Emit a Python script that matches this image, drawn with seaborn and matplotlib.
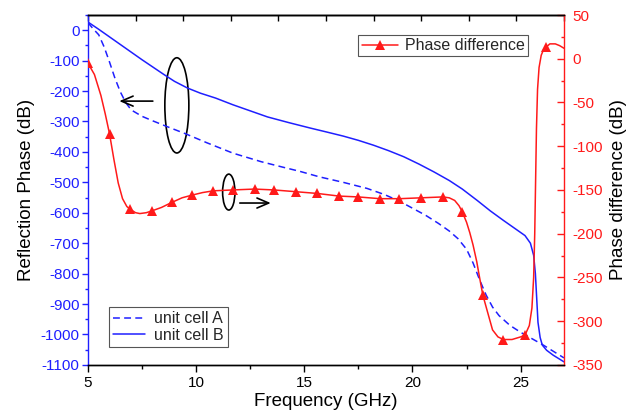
import matplotlib
matplotlib.use('Agg')
import matplotlib.pyplot as plt
from matplotlib.patches import Ellipse
from matplotlib.ticker import MultipleLocator, NullFormatter
import seaborn as sns
import numpy as np
import pandas as pd

# unit cell A (dashed)
freq_a = [5.0, 5.25, 5.5, 5.75, 6.0, 6.25, 6.5, 6.75, 7.0, 7.5, 8.0, 8.7, 9.5, 10.5, 11.7,
          13.0, 14.0, 14.8, 15.7, 16.8, 17.9, 18.7, 19.4, 20.0, 20.6, 21.2, 21.7, 22.1,
          22.5, 22.8, 23.1, 23.4, 23.7, 24.0, 24.5, 25.0, 25.5, 26.0, 26.5, 27.0]
phase_a = [25, 4, -15, -55, -105, -158, -203, -238, -262, -283, -298, -318, -340, -370, -404,
           -432, -450, -464, -482, -500, -520, -540, -562, -585, -608, -635, -660, -685,
           -720, -765, -820, -870, -910, -938, -970, -993, -1013, -1033, -1055, -1077]

# unit cell B (solid)
freq_b = [5.0, 5.5, 6.0, 6.5, 7.0, 7.5, 8.0, 8.5, 9.0, 9.6, 10.2, 10.9, 11.7, 12.5, 13.3,
          14.3, 15.3, 16.0, 16.8, 17.5, 18.2, 18.9, 19.6, 20.3, 21.0, 21.7, 22.3, 23.0,
          23.6, 24.2, 24.8, 25.2, 25.45, 25.6, 25.68, 25.74, 25.8, 25.9, 26.0, 26.2,
          26.5, 27.0]
phase_b = [27, 3, -22, -47, -72, -97, -121, -145, -168, -190, -207, -223, -245, -265, -285,
           -304, -322, -334, -348, -362, -378, -396, -416, -440, -466, -494, -522, -560,
           -594, -625, -655, -675, -700, -740, -800, -880, -960, -1010, -1035, -1052,
           -1068, -1090]

# phase difference (right axis)
freq_pd = [5.0, 5.3, 5.6, 5.8, 6.0, 6.2, 6.4, 6.6, 6.8, 6.95, 7.2, 7.4, 7.7, 7.95, 8.4,
           8.9, 9.35, 9.8, 10.3, 10.8, 11.7, 12.7, 13.6, 14.6, 15.6, 16.6, 17.5, 18.5,
           19.4, 20.4, 21.4, 21.7, 21.95, 22.15, 22.3, 22.5, 22.65, 22.8, 22.97, 23.1,
           23.25, 23.44, 23.7, 23.95, 24.2, 24.6, 25.0, 25.2, 25.4, 25.52, 25.6, 25.65,
           25.69, 25.73, 25.78, 25.85, 25.95, 26.05, 26.16, 26.35, 26.6, 26.8, 27.0]
phase_pd = [-5, -18, -42, -63, -86, -115, -142, -160, -169, -172, -176, -177, -176, -174,
            -170, -164, -159, -156, -153, -151, -150, -149, -150, -152, -154, -157, -158,
            -160, -160, -159, -158, -159, -162, -168, -175, -187, -199, -213, -232, -250,
            -270, -287, -310, -318, -321, -321, -318, -316, -305, -285, -250, -200, -140,
            -80, -35, -10, 4, 10, 13, 17, 17, 15, 12]
marker_freq = [5.0, 6.0, 6.95, 7.95, 8.9, 9.8, 10.8, 11.7, 12.7, 13.6, 14.6, 15.6, 16.6,
               17.5, 18.5, 19.4, 20.4, 21.4, 22.3, 23.25, 24.2, 25.2, 26.16]

df_a = pd.DataFrame({'freq': freq_a, 'phase': phase_a})
df_b = pd.DataFrame({'freq': freq_b, 'phase': phase_b})
df_pd = pd.DataFrame({'freq': freq_pd, 'phase': phase_pd})
mark_idx = list(np.where(np.isin(df_pd['freq'], marker_freq))[0])

sns.set_theme(style='white')
plt.rcParams['font.family'] = ['Liberation Sans', 'DejaVu Sans']
plt.rcParams['axes.unicode_minus'] = False

BLUE = '#1f1fff'
RED = '#ff1a1a'

fig, ax1 = plt.subplots(figsize=(6.28, 4.17), dpi=100)
fig.subplots_adjust(left=0.140, right=0.898, bottom=0.125, top=0.964)
ax2 = ax1.twinx()

sns.lineplot(data=df_a, x='freq', y='phase', ax=ax1, color=BLUE, lw=1.1,
             label='unit cell A', linestyle=(0, (4.5, 2.8)))
sns.lineplot(data=df_b, x='freq', y='phase', ax=ax1, color=BLUE, lw=1.1,
             label='unit cell B')
sns.lineplot(data=df_pd, x='freq', y='phase', ax=ax2, color=RED, lw=1.1,
             marker='^', markersize=7, markeredgewidth=0, markevery=mark_idx,
             label='Phase difference')

ax1.set_xlim(5, 27)
ax1.set_ylim(-1100, 50)
ax2.set_ylim(-350, 50)

# spines
for a in (ax1, ax2):
    for s in a.spines.values():
        s.set_linewidth(1.0)
        s.set_color('black')
ax1.spines['right'].set_visible(False)
ax2.spines['left'].set_visible(False)
ax1.spines['left'].set_color(BLUE)
ax2.spines['right'].set_color(RED)

# ticks
ax1.xaxis.set_major_locator(MultipleLocator(5))
ax1.xaxis.set_minor_locator(MultipleLocator(2.5))
ax1.yaxis.set_major_locator(MultipleLocator(100))
ax1.yaxis.set_minor_locator(MultipleLocator(50))
ax2.yaxis.set_major_locator(MultipleLocator(50))
ax2.yaxis.set_minor_locator(MultipleLocator(25))

ax1.tick_params(axis='x', which='major', direction='out', length=5, width=1,
                colors='black', labelsize=11, pad=3, bottom=True, top=False)
ax1.tick_params(axis='x', which='minor', direction='out', length=3, width=1,
                colors='black', bottom=True, top=False)
ax1.tick_params(axis='y', which='major', direction='out', length=4, width=1,
                colors=BLUE, labelsize=11, pad=2, left=True)
ax1.tick_params(axis='y', which='minor', direction='out', length=2.5, width=1,
                colors=BLUE, left=True)
ax2.tick_params(axis='y', which='major', direction='in', length=5, width=1,
                colors=RED, labelsize=11, pad=6, right=True)
ax2.tick_params(axis='y', which='minor', direction='in', length=2.5, width=1,
                colors=RED, right=True)

top = ax1.secondary_xaxis('top')
top.set_xticks(np.linspace(5, 27, 11))
top.xaxis.set_major_formatter(NullFormatter())
top.tick_params(axis='x', direction='in', length=4, width=1, colors='black')
top.spines['top'].set_linewidth(1.0)

ax1.set_xlabel('Frequency (GHz)', fontsize=13.5, color='black', labelpad=2)
ax1.set_ylabel('Reflection Phase (dB)', fontsize=13.5, color='black', labelpad=4)
ax2.set_ylabel('Phase difference (dB)', fontsize=13.5, color='black', labelpad=5)

# annotations
ax1.add_patch(Ellipse((9.11, -247), 1.11, 313, fill=False, ec='black', lw=1.2))
ax1.add_patch(Ellipse((11.51, -532), 0.57, 118, fill=False, ec='black', lw=1.2))
ax1.annotate('', xy=(6.45, -233), xytext=(8.0, -233),
             arrowprops=dict(arrowstyle='->,head_length=0.7,head_width=0.3',
                             lw=1.2, color='black', shrinkA=0, shrinkB=0))
ax1.annotate('', xy=(13.45, -568), xytext=(12.02, -568),
             arrowprops=dict(arrowstyle='->,head_length=0.7,head_width=0.3',
                             lw=1.2, color='black', shrinkA=0, shrinkB=0))

leg1 = ax1.legend(loc='lower left', bbox_to_anchor=(0.044, 0.051), borderaxespad=0,
                  fontsize=11.5, frameon=True, fancybox=False, framealpha=1,
                  edgecolor='#555555', handlelength=2.0, handletextpad=0.6,
                  labelspacing=0.1, borderpad=0.25)
leg1.get_frame().set_linewidth(0.8)
leg2 = ax2.legend(loc='upper right', bbox_to_anchor=(0.924, 0.943), borderaxespad=0,
                  fontsize=11.5, frameon=True, fancybox=False, framealpha=1,
                  edgecolor='#555555', handlelength=2.3, handletextpad=0.4,
                  borderpad=0.2)
leg2.get_frame().set_linewidth(0.8)

fig.savefig('out.png', dpi=100)
